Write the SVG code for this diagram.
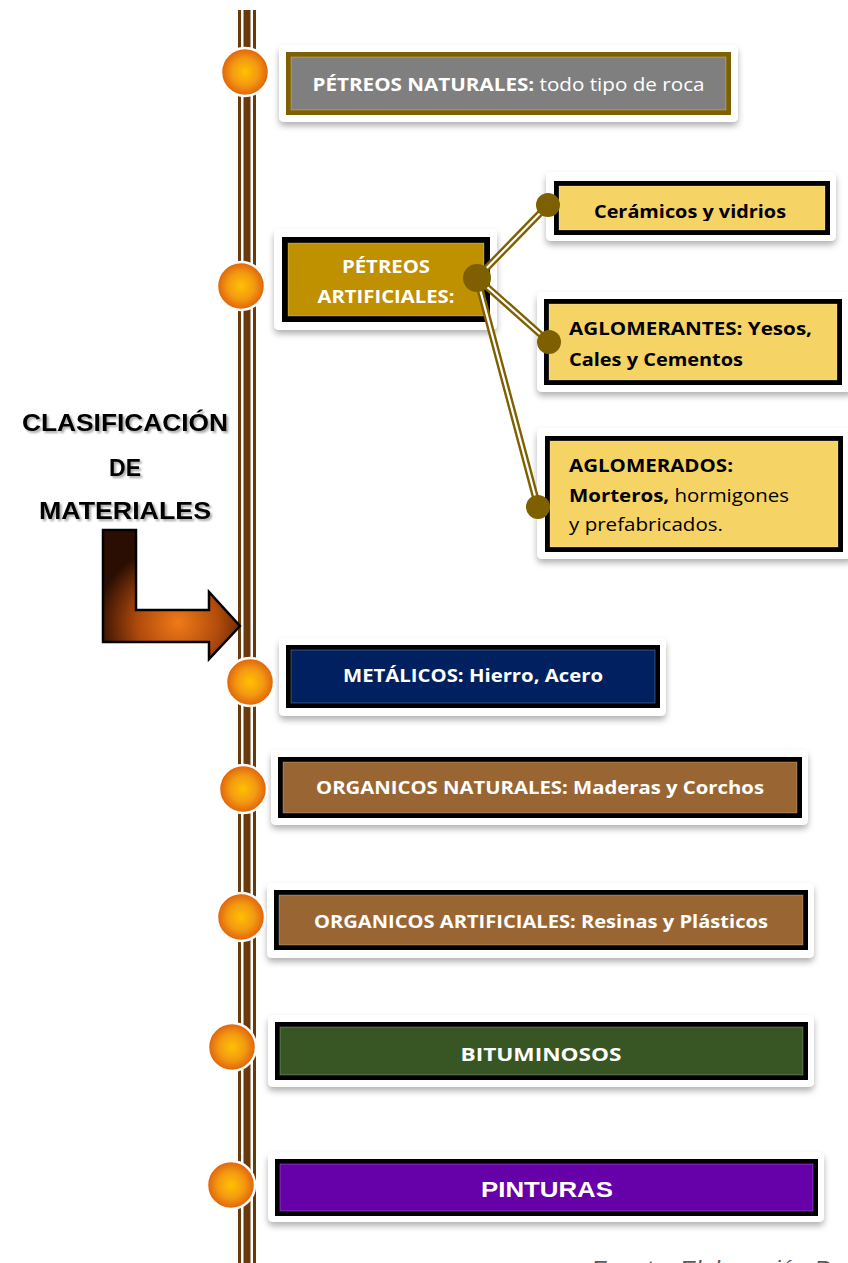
<svg xmlns="http://www.w3.org/2000/svg" width="848" height="1263" viewBox="0 0 848 1263">
<defs>
<radialGradient id="gOrb" cx="0.5" cy="0.5" r="0.5">
<stop offset="0" stop-color="#FFC000"/>
<stop offset="0.55" stop-color="#F39A12"/>
<stop offset="1" stop-color="#E0600A"/>
</radialGradient>
<radialGradient id="gArrow" cx="0.55" cy="0.72" r="0.6">
<stop offset="0" stop-color="#F07A18"/>
<stop offset="0.5" stop-color="#B04A0C"/>
<stop offset="1" stop-color="#2A0E02"/>
</radialGradient>
<filter id="sh" x="-10%" y="-20%" width="120%" height="150%">
<feDropShadow dx="0" dy="4" stdDeviation="3" flood-color="#000" flood-opacity="0.3"/>
</filter>
<filter id="tsh" x="-10%" y="-30%" width="120%" height="160%">
<feDropShadow dx="2" dy="2" stdDeviation="1" flood-color="#000" flood-opacity="0.35"/>
</filter>
<clipPath id="cCer"><rect x="559" y="186" width="266" height="35"/></clipPath>
</defs>
<style>
.frame{fill:#fff;filter:url(#sh)}
.blk{fill:#000}
.bev{stroke:rgba(255,255,255,0.25);stroke-width:1}
.orb{fill:url(#gOrb);stroke:#fff;stroke-width:2.5}
.wt{font-family:"Open Sans","Liberation Sans",sans-serif;font-size:18px;fill:#fff;font-weight:bold}
.bt{font-family:"Open Sans","Liberation Sans",sans-serif;font-size:18px;fill:#000;font-weight:bold}
.reg{font-weight:normal}
.title{font-family:"Liberation Sans",Arial,sans-serif;font-size:23px;font-weight:bold;fill:#000;filter:url(#tsh)}
.dbl{stroke:#7F6000;stroke-width:7;fill:none}
.dblw{stroke:#fff;stroke-width:2.2;fill:none}
.dot{fill:#7F6000}
</style>
<rect width="848" height="1263" fill="#fff"/>
<g id="timeline">
<rect x="237" y="10" width="20" height="1253" fill="#fff"/>
<rect x="238" y="10" width="3" height="1253" fill="#6B3A0C"/>
<rect x="243.5" y="10" width="7" height="1253" fill="#6B3A0C"/>
<rect x="253" y="10" width="3" height="1253" fill="#6B3A0C"/>
</g>
<g id="title">
<text class="title" x="125" y="431" text-anchor="middle" textLength="206" lengthAdjust="spacingAndGlyphs">CLASIFICACIÓN</text>
<text class="title" x="125" y="476" text-anchor="middle">DE</text>
<text class="title" x="125" y="519" text-anchor="middle" textLength="172" lengthAdjust="spacingAndGlyphs">MATERIALES</text>
</g>
<g id="arrow">
<path d="M103,530 L136,530 L136,610 L209,610 L209,592 L240,626 L209,659 L209,642 L103,642 Z" fill="url(#gArrow)" stroke="#000" stroke-width="2.5" stroke-linejoin="miter"/>
</g>
<g id="n-petreos-naturales">
<rect class="frame" x="279" y="45" width="459" height="77" rx="5"/>
<rect x="286" y="52" width="445" height="63" fill="#7F6000"/>
<rect class="bev" x="291" y="57" width="435" height="53" fill="#7F7F7F"/>
<text class="wt" x="508.5" y="91" text-anchor="middle" textLength="392" lengthAdjust="spacingAndGlyphs">PÉTREOS NATURALES:<tspan class="reg"> todo tipo de roca</tspan></text>
</g>
<g id="n-petreos-artificiales">
<rect class="frame" x="274" y="229" width="223" height="101" rx="5"/>
<rect class="blk" x="282" y="237" width="208" height="85"/>
<rect class="bev" x="288" y="243" width="196" height="73" fill="#BF9000"/>
<text class="wt" x="386" y="273" text-anchor="middle" textLength="88" lengthAdjust="spacingAndGlyphs">PÉTREOS</text>
<text class="wt" x="386" y="303" text-anchor="middle" textLength="137" lengthAdjust="spacingAndGlyphs">ARTIFICIALES:</text>
</g>
<g id="n-ceramicos">
<rect class="frame" x="546" y="172" width="290" height="69" rx="5"/>
<rect class="blk" x="554" y="181" width="276" height="54"/>
<rect class="bev" x="559" y="186" width="266" height="44" fill="#F6D365"/>
<text class="bt" x="690" y="218" text-anchor="middle" clip-path="url(#cCer)" textLength="192" lengthAdjust="spacingAndGlyphs">Cerámicos y vidrios</text>
</g>
<g id="n-aglomerantes">
<rect class="frame" x="537" y="292" width="316" height="100" rx="5"/>
<rect class="blk" x="544" y="299" width="298" height="86"/>
<rect class="bev" x="549" y="304" width="288" height="76" fill="#F6D365"/>
<text class="bt" x="569" y="335" textLength="243" lengthAdjust="spacingAndGlyphs">AGLOMERANTES: Yesos,</text>
<text class="bt" x="569" y="366" textLength="174" lengthAdjust="spacingAndGlyphs">Cales y Cementos</text>
</g>
<g id="n-aglomerados">
<rect class="frame" x="537" y="428" width="316" height="131" rx="5"/>
<rect class="blk" x="545" y="436" width="298" height="116"/>
<rect class="bev" x="550" y="441" width="288" height="106" fill="#F6D365"/>
<text class="bt" x="569" y="472" textLength="164" lengthAdjust="spacingAndGlyphs">AGLOMERADOS:</text>
<text class="bt" x="569" y="502" textLength="220" lengthAdjust="spacingAndGlyphs">Morteros,<tspan class="reg"> hormigones</tspan></text>
<text class="bt reg" x="569" y="531" textLength="154" lengthAdjust="spacingAndGlyphs">y prefabricados.</text>
</g>
<g id="connectors">
<line class="dbl" x1="477" y1="278" x2="548" y2="205"/>
<line class="dblw" x1="477" y1="278" x2="548" y2="205"/>
<line class="dbl" x1="477" y1="278" x2="549" y2="342"/>
<line class="dblw" x1="477" y1="278" x2="549" y2="342"/>
<line class="dbl" x1="477" y1="278" x2="538" y2="507"/>
<line class="dblw" x1="477" y1="278" x2="538" y2="507"/>
<circle class="dot" cx="477" cy="278" r="14"/>
<circle class="dot" cx="548" cy="205" r="12"/>
<circle class="dot" cx="549" cy="342" r="12"/>
<circle class="dot" cx="538" cy="507" r="12"/>
</g>
<g id="n-metalicos">
<rect class="frame" x="279" y="638" width="387" height="78" rx="5"/>
<rect class="blk" x="286" y="645" width="374" height="63"/>
<rect class="bev" x="291" y="650" width="364" height="53" fill="#002060"/>
<text class="wt" x="473" y="682" text-anchor="middle" textLength="260" lengthAdjust="spacingAndGlyphs">METÁLICOS: Hierro, Acero</text>
</g>
<g id="n-organicos-naturales">
<rect class="frame" x="271" y="750" width="537" height="75" rx="5"/>
<rect class="blk" x="278" y="757" width="524" height="61"/>
<rect class="bev" x="283" y="762" width="514" height="51" fill="#996633"/>
<text class="wt" x="540" y="794" text-anchor="middle" textLength="448" lengthAdjust="spacingAndGlyphs">ORGANICOS NATURALES: Maderas y Corchos</text>
</g>
<g id="n-organicos-artificiales">
<rect class="frame" x="267" y="883" width="547" height="75" rx="5"/>
<rect class="blk" x="274" y="890" width="534" height="60"/>
<rect class="bev" x="279" y="895" width="524" height="50" fill="#996633"/>
<text class="wt" x="541" y="928" text-anchor="middle" textLength="454" lengthAdjust="spacingAndGlyphs">ORGANICOS ARTIFICIALES: Resinas y Plásticos</text>
</g>
<g id="n-bituminosos">
<rect class="frame" x="268" y="1015" width="546" height="72" rx="5"/>
<rect class="blk" x="275" y="1022" width="533" height="58"/>
<rect class="bev" x="280" y="1027" width="523" height="48" fill="#375623"/>
<text class="wt" x="541" y="1061" text-anchor="middle" textLength="161" lengthAdjust="spacingAndGlyphs">BITUMINOSOS</text>
</g>
<g id="n-pinturas">
<rect class="frame" x="268" y="1152" width="556" height="70" rx="5"/>
<rect class="blk" x="275" y="1159" width="543" height="57"/>
<rect class="bev" x="280" y="1164" width="533" height="47" fill="#6600A8"/>
<text x="547" y="1197" text-anchor="middle" font-family="Liberation Sans, Arial, sans-serif" font-size="22" font-weight="bold" fill="#fff" textLength="132" lengthAdjust="spacingAndGlyphs">PINTURAS</text>
</g>
<g id="orbs">
<circle class="orb" cx="245" cy="72" r="24"/>
<circle class="orb" cx="241" cy="286" r="24"/>
<circle class="orb" cx="250" cy="682" r="24"/>
<circle class="orb" cx="243" cy="789" r="24"/>
<circle class="orb" cx="241" cy="917" r="24"/>
<circle class="orb" cx="232" cy="1047" r="24"/>
<circle class="orb" cx="231" cy="1185" r="24"/>
</g>
<text x="591" y="1276" font-family="Liberation Sans, Arial, sans-serif" font-size="22" font-style="italic" fill="#595959" textLength="239" lengthAdjust="spacingAndGlyphs">Fuente: Elaboración P</text>
</svg>
